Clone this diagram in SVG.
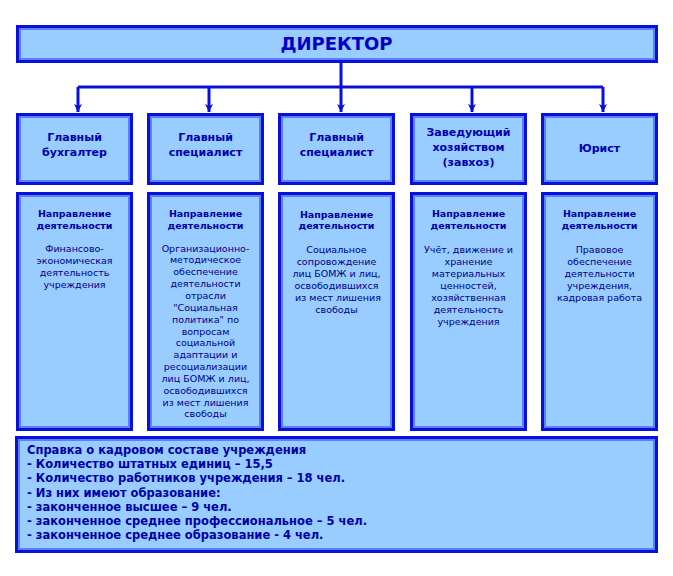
<svg xmlns="http://www.w3.org/2000/svg" width="673" height="576" viewBox="0 0 673 576">
<style>
.frame{fill:#99ccff;stroke:#0a10dc;stroke-width:3}
.inner{fill:none;stroke:#5a80ff;stroke-width:2}
.title{font-family:"DejaVu Sans",Verdana,sans-serif;font-weight:bold;font-size:11px;fill:#0000b0;text-anchor:middle}
.dir{font-family:"DejaVu Sans",Verdana,sans-serif;font-weight:bold;font-size:18px;fill:#0000c8;text-anchor:middle}
.hd{font-family:"DejaVu Sans",Verdana,sans-serif;font-weight:bold;font-size:9.5px;fill:#0000a8;text-anchor:middle}
.bd{font-family:"DejaVu Sans",Verdana,sans-serif;font-size:9.5px;fill:#00008b;text-anchor:middle}
.info{font-family:"DejaVu Sans",Verdana,sans-serif;font-weight:bold;font-size:11.5px;fill:#0000a8}
.conn{fill:none;stroke:#0a10dc;stroke-width:3}
</style>
<defs>
<marker id="arr" viewBox="0 0 8 8" refX="8" refY="4" markerWidth="8" markerHeight="8" markerUnits="userSpaceOnUse" orient="auto">
<path d="M0,0 L8,4 L0,8 L2,4 z" fill="#0a10dc"/>
</marker>
</defs>
<rect width="673" height="576" fill="#ffffff"/>

<g id="connectors">
<path class="conn" d="M78,87 H603"/>
<path class="conn" d="M341,63 V112" marker-end="url(#arr)"/>
<path class="conn" d="M78,87 V112" marker-end="url(#arr)"/>
<path class="conn" d="M209,87 V112" marker-end="url(#arr)"/>
<path class="conn" d="M472,87 V112" marker-end="url(#arr)"/>
<path class="conn" d="M603,87 V112" marker-end="url(#arr)"/>
</g>

<g id="director">
<rect class="frame" x="17.5" y="26.5" width="639" height="35"/>
<rect class="inner" x="20" y="29" width="634" height="30"/>
<text class="dir" x="336.5" y="50">ДИРЕКТОР</text>
</g>

<g id="head1">
<rect class="frame" x="17.5" y="114.5" width="114" height="69"/>
<rect class="inner" x="20" y="117" width="109" height="64"/>
<text class="title" x="74.5" y="141">Главный</text>
<text class="title" x="74.5" y="156">бухгалтер</text>
</g>
<g id="head2">
<rect class="frame" x="148.5" y="114.5" width="114" height="69"/>
<rect class="inner" x="151" y="117" width="109" height="64"/>
<text class="title" x="205.5" y="141">Главный</text>
<text class="title" x="205.5" y="156">специалист</text>
</g>
<g id="head3">
<rect class="frame" x="279.5" y="114.5" width="114" height="69"/>
<rect class="inner" x="282" y="117" width="109" height="64"/>
<text class="title" x="336.5" y="141">Главный</text>
<text class="title" x="336.5" y="156">специалист</text>
</g>
<g id="head4">
<rect class="frame" x="411.5" y="114.5" width="114" height="69"/>
<rect class="inner" x="414" y="117" width="109" height="64"/>
<text class="title" x="468.5" y="135.5">Заведующий</text>
<text class="title" x="468.5" y="150.5">хозяйством</text>
<text class="title" x="468.5" y="166">(завхоз)</text>
</g>
<g id="head5">
<rect class="frame" x="542.5" y="114.5" width="114" height="69"/>
<rect class="inner" x="545" y="117" width="109" height="64"/>
<text class="title" x="599.5" y="151.5">Юрист</text>
</g>

<g id="dept1">
<rect class="frame" x="17.5" y="193.5" width="114" height="236"/>
<rect class="inner" x="20" y="196" width="109" height="231"/>
<text class="hd" x="74.5" y="216.5">Направление</text>
<text class="hd" x="74.5" y="228.5">деятельности</text>
<text class="bd" x="74.5" y="251.5">Финансово-</text>
<text class="bd" x="74.5" y="263.5">экономическая</text>
<text class="bd" x="74.5" y="275.5">деятельность</text>
<text class="bd" x="74.5" y="287.5">учреждения</text>
</g>
<g id="dept2">
<rect class="frame" x="148.5" y="193.5" width="114" height="236"/>
<rect class="inner" x="151" y="196" width="109" height="231"/>
<text class="hd" x="205.5" y="216.5">Направление</text>
<text class="hd" x="205.5" y="228.5">деятельности</text>
<text class="bd" x="205.5" y="251.5">Организационно-</text>
<text class="bd" x="205.5" y="263.4">методическое</text>
<text class="bd" x="205.5" y="275.2">обеспечение</text>
<text class="bd" x="205.5" y="287.1">деятельности</text>
<text class="bd" x="205.5" y="298.9">отрасли</text>
<text class="bd" x="205.5" y="310.8">"Социальная</text>
<text class="bd" x="205.5" y="322.6">политика" по</text>
<text class="bd" x="205.5" y="334.5">вопросам</text>
<text class="bd" x="205.5" y="346.3">социальной</text>
<text class="bd" x="205.5" y="358.2">адаптации и</text>
<text class="bd" x="205.5" y="370">ресоциализации</text>
<text class="bd" x="205.5" y="381.9">лиц БОМЖ и лиц,</text>
<text class="bd" x="205.5" y="393.7">освободившихся</text>
<text class="bd" x="205.5" y="405.6">из мест лишения</text>
<text class="bd" x="205.5" y="417.4">свободы</text>
</g>
<g id="dept3">
<rect class="frame" x="279.5" y="193.5" width="114" height="236"/>
<rect class="inner" x="282" y="196" width="109" height="231"/>
<text class="hd" x="336.5" y="217.5">Направление</text>
<text class="hd" x="336.5" y="229">деятельности</text>
<text class="bd" x="336.5" y="252.5">Социальное</text>
<text class="bd" x="336.5" y="264.5">сопровождение</text>
<text class="bd" x="336.5" y="276.5">лиц БОМЖ и лиц,</text>
<text class="bd" x="336.5" y="288.5">освободившихся</text>
<text class="bd" x="338" y="300.5">из мест лишения</text>
<text class="bd" x="336.5" y="312.5">свободы</text>
</g>
<g id="dept4">
<rect class="frame" x="411.5" y="193.5" width="114" height="236"/>
<rect class="inner" x="414" y="196" width="109" height="231"/>
<text class="hd" x="468.5" y="216.5">Направление</text>
<text class="hd" x="468.5" y="228.5">деятельности</text>
<text class="bd" x="468.5" y="252.5">Учёт, движение и</text>
<text class="bd" x="468.5" y="264.5">хранение</text>
<text class="bd" x="468.5" y="276.5">материальных</text>
<text class="bd" x="468.5" y="288.5">ценностей,</text>
<text class="bd" x="468.5" y="300.5">хозяйственная</text>
<text class="bd" x="468.5" y="312.5">деятельность</text>
<text class="bd" x="468.5" y="324.5">учреждения</text>
</g>
<g id="dept5">
<rect class="frame" x="542.5" y="193.5" width="114" height="236"/>
<rect class="inner" x="545" y="196" width="109" height="231"/>
<text class="hd" x="599.5" y="216.5">Направление</text>
<text class="hd" x="599.5" y="228.5">деятельности</text>
<text class="bd" x="599.5" y="252.5">Правовое</text>
<text class="bd" x="599.5" y="264.5">обеспечение</text>
<text class="bd" x="599.5" y="276.5">деятельности</text>
<text class="bd" x="599.5" y="288.5">учреждения,</text>
<text class="bd" x="599.5" y="300.5">кадровая работа</text>
</g>

<g id="staff">
<rect class="frame" x="16.5" y="437.5" width="640" height="114"/>
<rect class="inner" x="19" y="440" width="635" height="109"/>
<text class="info" x="27" y="454">Справка о кадровом составе учреждения</text>
<text class="info" x="27" y="468.2">- Количество штатных единиц – 15,5</text>
<text class="info" x="27" y="482.4">- Количество работников учреждения – 18 чел.</text>
<text class="info" x="27" y="496.6">- Из них имеют образование:</text>
<text class="info" x="27" y="510.8">- законченное высшее – 9 чел.</text>
<text class="info" x="27" y="525">- законченное среднее профессиональное – 5 чел.</text>
<text class="info" x="27" y="539.2">- законченное среднее образование - 4 чел.</text>
</g>
</svg>
